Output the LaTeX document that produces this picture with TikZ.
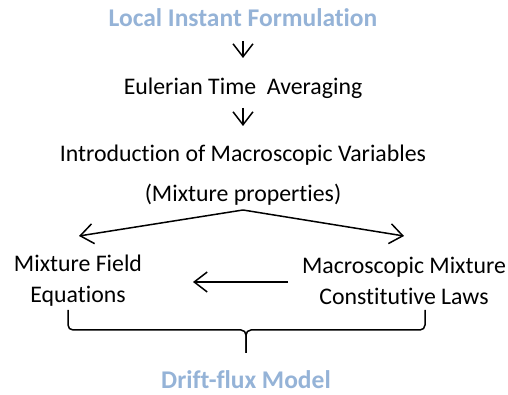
\documentclass[tikz,border=0pt]{standalone}
\usepackage{fontspec}
\setmainfont{Carlito}[Ligatures=NoCommon]
\usepackage{tikz}
\usetikzlibrary{positioning, calc, decorations.pathreplacing, arrows.meta}
\definecolor{titleblue}{RGB}{149,179,215}

\begin{document}
\begin{tikzpicture}[x=1pt, y=1pt, line width=1.5pt,
  every node/.style={font=\fontsize{23.8}{31}\selectfont, inner sep=0pt, align=center},
  title/.style={text=titleblue, font=\fontsize{25.5}{31}\selectfont\bfseries},
  flow/.style={-{Straight Barb[length=13pt, width=20pt]}}]
  \useasboundingbox (0,0) rectangle (508,395);
  \node[title] (local) at (243,377) {Local Instant Formulation};
  \node (euler) at (243,307) {Eulerian Time~ Averaging};
  \node (intro) at (243,240) {Introduction of Macroscopic Variables};
  \node (props) at (243,200) {(Mixture properties)};
  \node (field) at (78,114) {Mixture Field\\Equations};
  \node (laws) at (404,114) {Macroscopic Mixture\\Constitutive Laws};
  \node[title] (drift) at (246,15) {Drift-flux Model};
  \coordinate (top1) at (243,354);
  \coordinate (bot1) at (243,337);
  \coordinate (top2) at (243,287);
  \coordinate (bot2) at (243,269);
  \coordinate (split) at (243,185);
  \coordinate (left) at (79,159);
  \coordinate (right) at (404,159);
  \coordinate (from) at (288,113);
  \coordinate (to) at (193,113);
  \coordinate (bl) at (68,85);
  \coordinate (br) at (425,85);
  \coordinate (tip) at (246,42);
  \draw[flow] (top1) -- (bot1);
  \draw[flow] (top2) -- (bot2);
  \draw[flow] (split) -- (left);
  \draw[flow] (split) -- (right);
  \draw[flow] (from) -- (to);
  % brace under the two boxes
  \draw[rounded corners=5pt] (bl) |- ($(tip)+(0,23)$) -- (tip);
  \draw[rounded corners=5pt] (br) |- ($(tip)+(0,23)$) -- (tip);
\end{tikzpicture}
\end{document}
